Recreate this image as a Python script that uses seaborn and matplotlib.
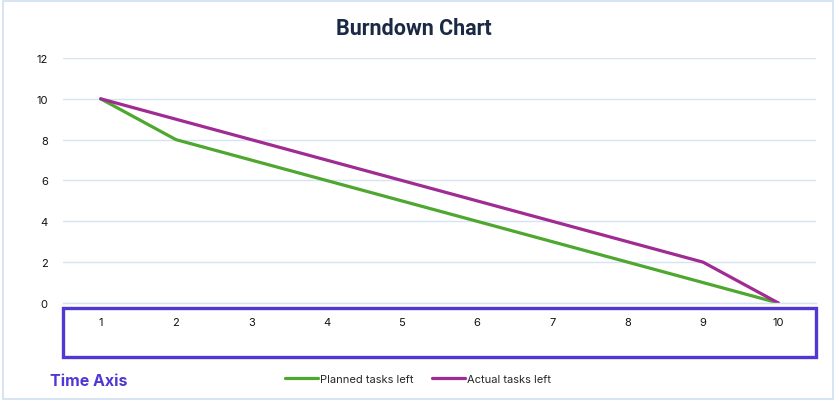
import pandas as pd
import matplotlib.pyplot as plt
import seaborn as sns
from matplotlib.patches import Rectangle
from matplotlib.lines import Line2D

# Data
days = [1, 2, 3, 4, 5, 6, 7, 8, 9, 10]
planned_left = [10, 8, 7, 6, 5, 4, 3, 2, 1, 0]
actual_left = [10, 9, 8, 7, 6, 5, 4, 3, 2, 0]

df = pd.DataFrame({
    "Day": days * 2,
    "Tasks": planned_left + actual_left,
    "Series": ["Planned tasks left"] * len(days) + ["Actual tasks left"] * len(days),
})

sns.set_style("white")
plt.rcParams['font.family'] = ['Inter', 'DejaVu Sans']

green = "#4ea72e"
purple = "#a02b93"
grid_col = "#d6e3f2"
box_col = "#5039d2"

fig = plt.figure(figsize=(8.36, 4.02), dpi=100)
ax = fig.add_axes([0.0754, 0.2438, 0.9007, 0.6095])

sns.lineplot(data=df, x="Day", y="Tasks", hue="Series",
             palette={"Planned tasks left": green, "Actual tasks left": purple},
             linewidth=2.3, ax=ax, legend=False)

ax.set_xlim(0.5, 10.5)
ax.set_ylim(0, 12)
ax.set_yticks(range(0, 13, 2))
ax.set_xticks(days)
ax.set_xticks([d + 0.5 for d in days[:-1]] + [0.5, 10.5], minor=True)
ax.set_xlabel("")
ax.set_ylabel("")
ax.grid(axis="y", color=grid_col, linewidth=1)
ax.set_axisbelow(True)
for s in ["top", "right", "left"]:
    ax.spines[s].set_visible(False)
ax.spines["bottom"].set_color(grid_col)
ax.spines["bottom"].set_linewidth(1)
ax.tick_params(axis="y", length=0, pad=11, labelsize=8, labelcolor="#111111")
ax.tick_params(axis="x", which="major", length=0, pad=10, labelsize=8, labelcolor="#111111")
ax.tick_params(axis="x", which="minor", length=4, color=grid_col, width=1)

# Title
fig.text(0.495, 0.928, "Burndown Chart", ha="center", va="center",
         fontsize=15.5, fontweight="bold", color="#1b2a44", family=["Roboto", "DejaVu Sans"])

# Highlight box around the time axis
fig.patches.append(Rectangle((0.0754, 0.1095), 0.9007, 0.1219, transform=fig.transFigure,
                             fill=False, edgecolor=box_col, linewidth=2.4))
fig.text(0.06, 0.052, "Time Axis", ha="left", va="center", fontsize=11.5,
         fontweight="bold", color=box_col)

# Legend
handles = [Line2D([], [], color=green, linewidth=2.3),
           Line2D([], [], color=purple, linewidth=2.3)]
fig.legend(handles, ["Planned tasks left", "Actual tasks left"], loc="center",
           bbox_to_anchor=(0.5, 0.055), ncol=2, frameon=False, fontsize=8,
           handlelength=3, handletextpad=0.2, columnspacing=1.6)

# Light outer border
fig.patches.append(Rectangle((0.003, 0.004), 0.993, 0.992, transform=fig.transFigure,
                             fill=False, edgecolor="#cfe0f0", linewidth=1.2))

fig.savefig("out.png", dpi=100)
